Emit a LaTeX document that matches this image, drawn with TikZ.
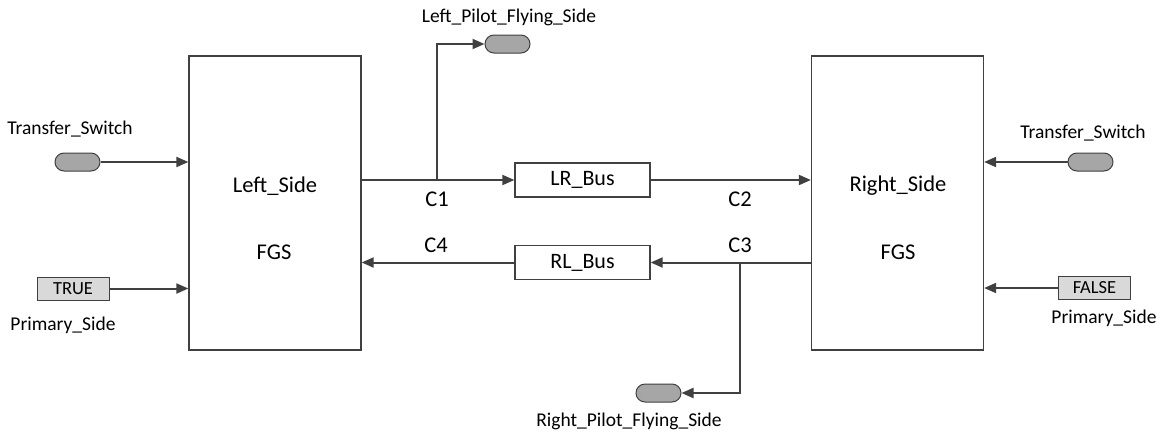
\documentclass[tikz,border=0pt]{standalone}
\usepackage{fontspec}
\setmainfont{Carlito}
\usetikzlibrary{arrows.meta,shapes.misc}
\definecolor{ln}{HTML}{404040}
\definecolor{pillfill}{HTML}{A6A6A6}
\definecolor{constfill}{HTML}{D9D9D9}
\tikzset{
  fgsbox/.style={draw=ln, line width=1.3pt, fill=white, minimum width=172pt, minimum height=294pt, inner sep=0pt},
  busbox/.style={draw=ln, line width=1.3pt, fill=white, minimum width=135pt, minimum height=34pt, inner sep=0pt, font=\fontsize{22}{25}\selectfont},
  pill/.style={draw=ln, line width=1pt, fill=pillfill, rounded rectangle, minimum width=45pt, minimum height=18pt, inner sep=0pt},
  constbox/.style={draw=ln, line width=1pt, fill=constfill, minimum width=72pt, minimum height=23pt, inner sep=0pt, font=\fontsize{18.5}{21}\selectfont},
  lbl/.style={inner sep=0pt, font=\fontsize{19.5}{22}\selectfont},
  biglbl/.style={inner sep=0pt, font=\fontsize{22.5}{25}\selectfont},
  conn/.style={draw=ln, line width=2pt, -{Triangle[length=12pt,width=10pt]}},
}
\begin{document}
\begin{tikzpicture}[x=1pt,y=-1pt]
\useasboundingbox (0,0) rectangle (1156,434);
% main boxes
\node[fgsbox] (L) at (275,203) {};
\node[fgsbox] (R) at (897.5,203) {};
\node[biglbl] (Lt) at (275,186) {Left\_Side};
\node[biglbl] (Lf) at (274,252) {FGS};
\node[biglbl] (Rt) at (898,186) {Right\_Side};
\node[biglbl] (Rf) at (898,252) {FGS};
% buses
\node[busbox] (LR) at (582.5,180) {LR\_Bus};
\node[busbox] (RL) at (582.5,262.5) {RL\_Bus};
% left inputs
\node[lbl] (tsLl) at (70,129) {Transfer\_Switch};
\node[pill] (tsL) at (77.5,162) {};
\node[constbox] (trueB) at (73,288.5) {TRUE};
\node[lbl] (psLl) at (63,325) {Primary\_Side};
% right inputs
\node[lbl] (tsRl) at (1083,133) {Transfer\_Switch};
\node[pill] (tsR) at (1090.5,162) {};
\node[constbox] (falseB) at (1094.5,288) {FALSE};
\node[lbl] (psRl) at (1104,318) {Primary\_Side};
% pilot flying outputs
\node[lbl] (lpfl) at (509,17) {Left\_Pilot\_Flying\_Side};
\node[pill] (lpf) at (507.5,44) {};
\node[pill] (rpf) at (658.5,393) {};
\node[lbl] (rpfl) at (629,421) {Right\_Pilot\_Flying\_Side};
% C labels
\node[biglbl] (c1) at (437,199) {C1};
\node[biglbl] (c2) at (740,199) {C2};
\node[biglbl] (c3) at (740,245) {C3};
\node[biglbl] (c4) at (436,245) {C4};
% junction coordinates
\coordinate (j1) at (437,180);
\coordinate (j3) at (740,262.5);
% connectors
\draw[conn] (tsL.east) -- (tsL.east -| L.west);
\draw[conn] (trueB.east) -- (trueB.east -| L.west);
\draw[conn] (tsR.west) -- (tsR.west -| R.east);
\draw[conn] (falseB.west) -- (falseB.west -| R.east);
\draw[conn] (LR.west -| L.east) -- (LR.west);
\draw[conn] (LR.east) -- (LR.east -| R.west);
\draw[conn] (RL.east -| R.west) -- (RL.east);
\draw[conn] (RL.west) -- (RL.west -| L.east);
\draw[conn] (j1) |- (lpf.west);
\draw[conn] (j3) |- (rpf.east);
\end{tikzpicture}
\end{document}
